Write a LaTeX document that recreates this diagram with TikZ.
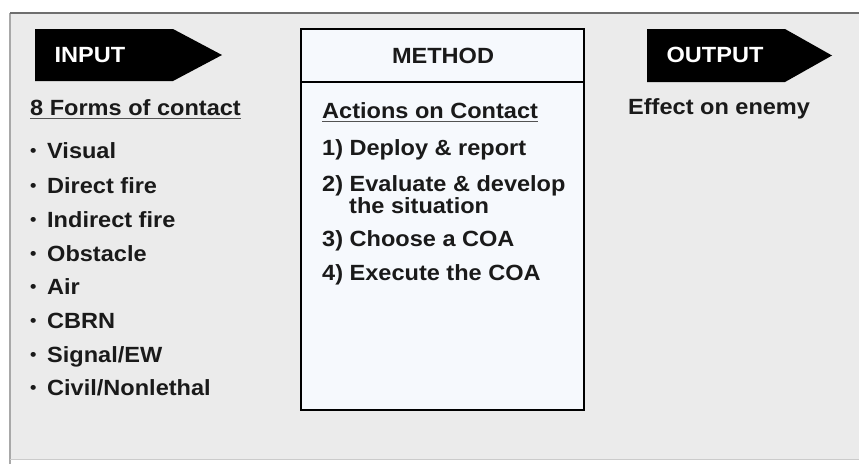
\documentclass[tikz,border=0pt]{standalone}
\usepackage{fontspec}
\setmainfont{Liberation Sans}[FakeStretch=1.07]
\definecolor{bg}{HTML}{EBEBEB}
\definecolor{framedark}{HTML}{6E6E6E}
\definecolor{framelight}{HTML}{A8A8A8}
\definecolor{boxfill}{HTML}{F6F9FD}
\definecolor{ink}{HTML}{1A1A1A}
\newcommand\mybul{\makebox[17pt][l]{\fontsize{17}{17}\selectfont\raisebox{1.5pt}{•}}}
\tikzset{
  txt/.style={font=\bfseries\fontsize{22}{22}\selectfont, text=ink, inner sep=0pt, anchor=base west},
  head/.style={font=\bfseries\fontsize{22}{22}\selectfont, inner sep=0pt, anchor=base},
  tag/.style={fill=black, draw=none},
  uline/.style={draw=ink!75, line width=1.2pt},
}
\begin{document}
\begin{tikzpicture}[x=1pt,y=-1pt]
\useasboundingbox (0,0) rectangle (859,464);
\fill[white] (0,0) rectangle (859,464);
\fill[bg] (10,13) rectangle (859,459);
\draw[framelight, line width=1.2pt] (10,464) -- (10,13);
\draw[framedark, line width=2.2pt] (10,13) -- (859,13);
\draw[framelight!60, line width=1pt] (10,459) -- (859,459);

% INPUT tag
\fill[tag] (35,29) -- (173,29) -- (222,55) -- (173,81) -- (35,81) -- cycle;
\node[head, text=white] (input) at (90,62) {INPUT};

% OUTPUT tag
\fill[tag] (647,29) -- (785,29) -- (832,55.5) -- (785,82) -- (647,82) -- cycle;
\node[head, text=white] (output) at (715,62) {OUTPUT};

% METHOD box
\node[draw=black, line width=1.8pt, fill=boxfill, minimum width=283, minimum height=381, inner sep=0pt] (method) at (442.5,219.5) {};
\draw[black, line width=1.8pt] (301,82) -- (584,82);
\node[head, text=ink] (methodt) at (443,63) {METHOD};

% Input column
\node[txt] (forms) at (30,115) {8 Forms of contact};
\draw[uline] ([yshift=-3.5pt]forms.base west) -- ([yshift=-3.5pt]forms.base east);
\node[txt] (i1) at (30,158) {\mybul Visual};
\node[txt] (i2) at (30,193) {\mybul Direct fire};
\node[txt] (i3) at (30,227) {\mybul Indirect fire};
\node[txt] (i4) at (30,261) {\mybul Obstacle};
\node[txt] (i5) at (30,294) {\mybul Air};
\node[txt] (i6) at (30,328) {\mybul CBRN};
\node[txt] (i7) at (30,362) {\mybul Signal/EW};
\node[txt] (i8) at (30,395) {\mybul Civil/Nonlethal};

% Method column
\node[txt] (aoc) at (322,118) {Actions on Contact};
\draw[uline] ([yshift=-3.5pt]aoc.base west) -- ([yshift=-3.5pt]aoc.base east);
\node[txt] (m1) at (322,155) {1) Deploy \& report};
\node[txt] (m2) at (322,191) {2) Evaluate \& develop};
\node[txt] (m2b) at (349,213) {the situation};
\node[txt] (m3) at (322,246) {3) Choose a COA};
\node[txt] (m4) at (322,280) {4) Execute the COA};

% Output column
\node[txt] (eff) at (628,114) {Effect on enemy};
\end{tikzpicture}
\end{document}
